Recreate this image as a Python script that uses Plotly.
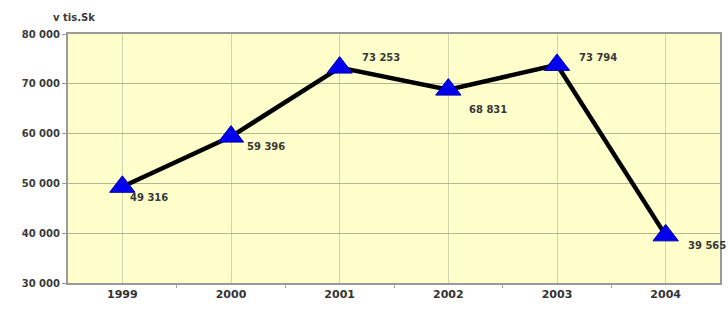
import plotly.graph_objects as go

years = ["1999", "2000", "2001", "2002", "2003", "2004"]
values = [49316, 59396, 73253, 68831, 73794, 39565]
labels = ["49 316", "59 396", "73 253", "68 831", "73 794", "39 565"]
y_ticks = [30000, 40000, 50000, 60000, 70000, 80000]
y_tick_text = ["30 000", "40 000", "50 000", "60 000", "70 000", "80 000"]
label_dx = [6, 14, 20, 19, 20, 20]
label_dy = [-11, -10, 10, -20, 7, -10]

FONT = "DejaVu Sans, Liberation Sans, Arial"

fig = go.Figure()
fig.add_trace(go.Scatter(
    x=years, y=values, mode="lines+markers",
    line=dict(color="#000000", width=4.5),
    marker=dict(symbol="triangle-up", size=22, color="#0000ee",
                line=dict(color="#0000aa", width=1)),
    showlegend=False, hoverinfo="skip", cliponaxis=False,
))

for i, (v, t, dx, dy) in enumerate(zip(values, labels, label_dx, label_dy)):
    fig.add_annotation(x=i, y=v, xref="x", yref="y", text="<b>" + t + "</b>", showarrow=False,
                       xanchor="left", yanchor="middle", xshift=dx, yshift=dy,
                       font=dict(family=FONT, size=10, color="#383838"))

fig.add_annotation(xref="paper", yref="paper", x=0.009, y=1.0, yshift=9,
                   text="<b>v tis.Sk</b>", showarrow=False, xanchor="center", yanchor="bottom",
                   font=dict(family=FONT, size=10, color="#3a3a3a"))

n = len(years)
# empty helper trace so the boundary-tick axis is drawn
fig.add_trace(go.Scatter(x=[], y=[], xaxis="x2", showlegend=False, hoverinfo="skip"))

fig.update_layout(
    width=728, height=314,
    margin=dict(l=68, r=8, t=34, b=31, autoexpand=False),
    paper_bgcolor="#ffffff", plot_bgcolor="#ffffcc",
    font=dict(family=FONT, size=10, color="#222222"),
    xaxis=dict(type="category", range=[-0.5, n - 0.5], showgrid=True, automargin=False,
               gridcolor="#d2d2ac", gridwidth=1, showline=True, linecolor="#9a9a9a",
               linewidth=2, mirror=True, ticks="", ticklen=0,
               tickvals=list(range(n)), ticktext=["<b>" + y + "</b>" for y in years],
               tickfont=dict(family=FONT, size=11, color="#333333")),
    xaxis2=dict(overlaying="x", side="bottom", range=[-0.5, n - 0.5],
                tickvals=[k + 0.5 for k in range(n - 1)], ticks="outside", ticklen=4,
                tickcolor="#a0a0a0", showticklabels=False, showgrid=False,
                zeroline=False, showline=False, automargin=False),
    yaxis=dict(range=[30000, 80000], tickvals=y_ticks,
               ticktext=["<b>" + s + "</b>" for s in y_tick_text],
               automargin=False, showgrid=True, gridcolor="#b5b58e", gridwidth=1,
               showline=True, linecolor="#9a9a9a", linewidth=2, mirror=True, zeroline=False,
               ticks="outside", ticklen=4, tickcolor="#9a9a9a",
               tickfont=dict(family=FONT, size=10, color="#3a3a3a")),
)

fig.write_html("out.html", config={"displayModeBar": False},
               post_script="document.body.style.margin='0px';")
